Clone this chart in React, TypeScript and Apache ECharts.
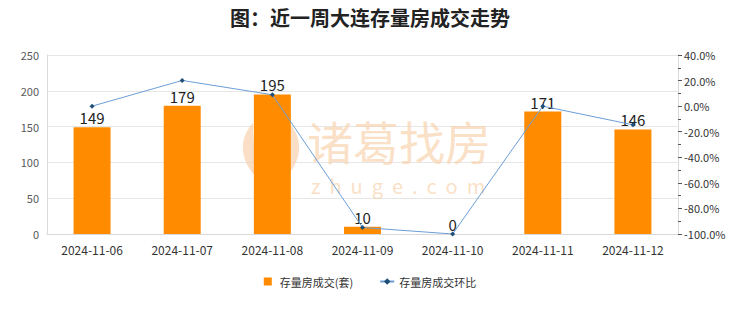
import React, { useEffect, useRef } from "react";
import * as echarts from "echarts";

const categories = ["2024-11-06", "2024-11-07", "2024-11-08", "2024-11-09", "2024-11-10", "2024-11-11", "2024-11-12"];
const volumes = [149, 179, 195, 10, 0, 171, 146];
const momChange = [0.0, 0.201, 0.089, -0.949, -1.0, 0.0, -0.146];
const titleText = "图：近一周大连存量房成交走势";
const barName = "存量房成交(套)";
const lineName = "存量房成交环比";

const FONT = "'Noto Sans CJK SC', 'Noto Sans', sans-serif";

export default function App() {
  const ref = useRef<HTMLDivElement>(null);
  useEffect(() => {
    if (!ref.current) return;
    echarts.graphic.registerShape(
      "wingLogo",
      echarts.graphic.extendPath(
        "M 12 0 C -2 14 -4 40 22 60 C 14 42 12 22 12 0 Z M 48 0 C 62 14 64 40 38 60 C 46 42 48 22 48 0 Z",
        {}
      )
    );
    const chart = echarts.init(ref.current, null, { renderer: "svg" });
    chart.setOption({
      animation: false,
      backgroundColor: "#ffffff",
      textStyle: { fontFamily: FONT },
      title: {
        text: titleText,
        left: "center",
        top: 2,
        textStyle: { fontSize: 20, fontWeight: "bold", color: "#222", fontFamily: FONT },
      },
      graphic: [
        {
          type: "wingLogo",
          x: 241,
          y: 123,
          z: 1,
          style: { fill: "#f8d2ae", opacity: 0.7 },
        },
        {
          type: "text",
          x: 307,
          y: 140,
          z: 1,
          style: {
            text: "诸葛找房",
            fontSize: 46,
            fontFamily: FONT,
            fill: "#f8d2ae",
            opacity: 0.7,
            verticalAlign: "middle",
          },
        },
        {
          type: "text",
          x: 311,
          y: 185,
          z: 1,
          style: {
            text: "z  h  u  g  e  .  c  o  m",
            fontSize: 20,
            fontFamily: FONT,
            fill: "#f8d2ae",
            opacity: 0.7,
            verticalAlign: "middle",
          },
        },
      ],
      legend: {
        bottom: 20,
        left: "center",
        itemWidth: 14,
        itemHeight: 8,
        itemGap: 26,
        symbolKeepAspect: true,
        textStyle: { fontSize: 11, color: "#333", fontFamily: FONT },
        data: [
          { name: barName, icon: "path://M0 0H10V10H0Z", itemStyle: { color: "#ff8c00" } },
          { name: lineName },
        ],
      },
      grid: { left: 47, right: 62, top: 55, bottom: 78, containLabel: false },
      xAxis: {
        type: "category",
        data: categories,
        axisLine: { lineStyle: { color: "#d9d9d9" } },
        axisTick: { show: false },
        axisLabel: { color: "#333", fontSize: 12, margin: 9, fontFamily: FONT },
      },
      yAxis: [
        {
          type: "value",
          min: 0,
          max: 250,
          interval: 50,
          axisLine: { show: true, lineStyle: { color: "#d9d9d9" } },
          axisTick: { show: false },
          axisLabel: { color: "#595959", fontSize: 11, margin: 8, fontFamily: FONT },
          splitLine: { lineStyle: { color: "#e6e6e6" } },
        },
        {
          type: "value",
          min: -1,
          max: 0.4,
          interval: 0.2,
          position: "right",
          axisLine: { show: true, lineStyle: { color: "#d9d9d9" } },
          axisTick: { show: true, length: 4, lineStyle: { color: "#555" } },
          minorTick: { show: true, splitNumber: 2, length: 3, lineStyle: { color: "#555" } },
          axisLabel: {
            color: "#333",
            fontSize: 11,
            margin: 6,
            fontFamily: FONT,
            formatter: (v: number) => (v * 100).toFixed(1) + "%",
          },
          splitLine: { show: false },
        },
      ],
      series: [
        {
          name: barName,
          type: "bar",
          data: volumes,
          barWidth: 37,
          z: 2,
          itemStyle: { color: "#ff8c00" },
          label: {
            show: true,
            position: "top",
            distance: 2,
            color: "#222",
            fontSize: 15,
            fontFamily: FONT,
          },
        },
        {
          name: lineName,
          type: "line",
          yAxisIndex: 1,
          data: momChange,
          z: 3,
          symbol: "diamond",
          symbolSize: 5,
          lineStyle: { color: "#6b9ed6", width: 1 },
          itemStyle: { color: "#1f4e79" },
        },
      ],
    });
    return () => chart.dispose();
  }, []);
  return <div ref={ref} style={{ width: 740, height: 312, marginLeft: -8, marginTop: -8 }} />;
}
